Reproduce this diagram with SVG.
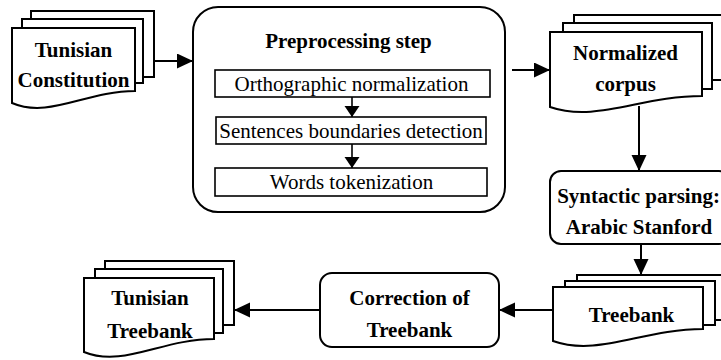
<svg xmlns="http://www.w3.org/2000/svg" width="721" height="360" viewBox="0 0 721 360" font-family="Liberation Serif, serif" font-size="21" text-anchor="middle">
<style>
.doc{fill:#fff;stroke:#000;stroke-width:2}
.box{fill:#fff;stroke:#000;stroke-width:2}
.ibox{fill:#fff;stroke:#000;stroke-width:1.6}
.c{fill:none;stroke:#000;stroke-width:2}
.ci{fill:none;stroke:#000;stroke-width:1.6}
</style>
<defs>
<marker id="ah" markerUnits="userSpaceOnUse" markerWidth="17" markerHeight="16" refX="16" refY="7.5" orient="auto">
<path d="M0,0 L16,7.5 L0,15 Z" fill="#000"/>
</marker>
<marker id="ahs" markerUnits="userSpaceOnUse" markerWidth="12" markerHeight="16" refX="11" refY="7.5" orient="auto">
<path d="M0,0 L11,7.5 L0,15 Z" fill="#000"/>
</marker>
</defs>
<rect width="721" height="360" fill="#fff"/>
<g id="connectors">
<path class="c" d="M154,61 H193" marker-end="url(#ah)"/>
<path class="c" d="M512,70 H550" marker-end="url(#ah)"/>
<path class="c" d="M639,106 V171" marker-end="url(#ah)"/>
<path class="c" d="M641,244 V275" marker-end="url(#ah)"/>
<path class="c" d="M553,310 H499" marker-end="url(#ah)"/>
<path class="c" d="M320,310 H234" marker-end="url(#ah)"/>
</g>
<g id="tunisian-constitution" font-weight="bold">
<rect class="doc" x="31" y="11" width="123" height="66"/>
<rect class="doc" x="22" y="19" width="121" height="64"/>
<path class="doc" d="M12,28 H135 V91 C86,91 49,119 12,103 Z"/>
<text x="73.5" y="57" font-family="Liberation Serif">Tunisian</text>
<text x="73.5" y="87" font-family="Liberation Serif">Constitution</text>
</g>
<g id="preprocessing">
<rect class="box" x="193" y="7" width="312" height="205" rx="25" ry="25"/>
<text x="348.5" y="47.5" font-family="Liberation Serif" font-weight="bold">Preprocessing step</text>
<g id="ortho">
<rect class="ibox" x="215" y="70" width="275" height="27"/>
<text x="351.5" y="91" font-family="Liberation Serif">Orthographic normalization</text>
</g>
<g id="sentences">
<rect class="ibox" x="216" y="117" width="270" height="27"/>
<text x="351" y="138" font-family="Liberation Serif">Sentences boundaries detection</text>
</g>
<g id="words">
<rect class="ibox" x="215" y="168" width="272" height="28"/>
<text x="351.5" y="188.5" font-family="Liberation Serif">Words tokenization</text>
</g>
<path class="ci" d="M352,97 V117" marker-end="url(#ahs)"/>
<path class="ci" d="M352,144 V168" marker-end="url(#ahs)"/>
</g>
<g id="normalized-corpus" font-weight="bold">
<rect class="doc" x="574" y="15" width="170" height="65"/>
<rect class="doc" x="563" y="23" width="149" height="66"/>
<path class="doc" d="M550,32 H702 V96 C641,96 596,123 550,107 Z"/>
<text x="625.5" y="60" font-family="Liberation Serif">Normalized</text>
<text x="625.5" y="91" font-family="Liberation Serif">corpus</text>
</g>
<g id="syntactic-parsing" font-weight="bold">
<rect class="box" x="550" y="171" width="180" height="73" rx="11" ry="11"/>
<text x="638.5" y="203" font-family="Liberation Serif">Syntactic parsing:</text>
<text x="639" y="234" font-family="Liberation Serif">Arabic Stanford</text>
</g>
<g id="treebank" font-weight="bold">
<rect class="doc" x="577" y="275" width="170" height="45"/>
<rect class="doc" x="565" y="281" width="150" height="44"/>
<path class="doc" d="M553,287 H703 V329 C643,329 598,357 553,341 Z"/>
<text x="631.5" y="322" font-family="Liberation Serif">Treebank</text>
</g>
<g id="correction" font-weight="bold">
<rect class="box" x="320" y="273" width="179" height="74" rx="12" ry="12"/>
<text x="409.5" y="305" font-family="Liberation Serif">Correction of</text>
<text x="409.5" y="337" font-family="Liberation Serif">Treebank</text>
</g>
<g id="tunisian-treebank" font-weight="bold">
<rect class="doc" x="105" y="261" width="129" height="64"/>
<rect class="doc" x="95" y="269" width="128" height="64"/>
<path class="doc" d="M84,278 H214 V339 C162,339 123,368 84,352 Z"/>
<text x="150" y="305" font-family="Liberation Serif">Tunisian</text>
<text x="150" y="338" font-family="Liberation Serif">Treebank</text>
</g>
</svg>
